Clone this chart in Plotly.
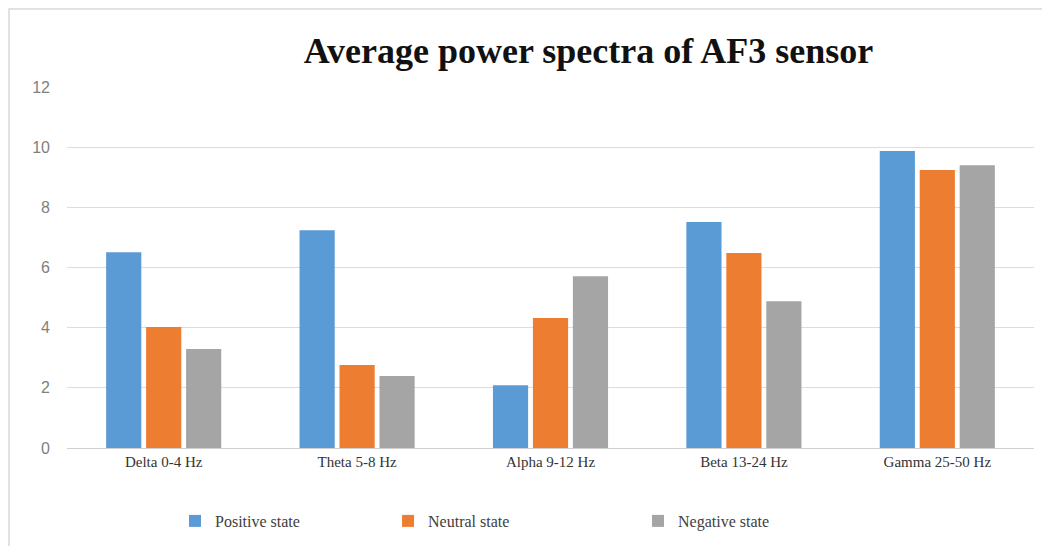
import plotly.graph_objects as go

categories = ["Delta 0-4 Hz", "Theta 5-8 Hz", "Alpha 9-12 Hz", "Beta 13-24 Hz", "Gamma 25-50 Hz"]
positive = [6.51, 7.24, 2.09, 7.51, 9.87]
neutral = [4.02, 2.76, 4.32, 6.48, 9.24]
negative = [3.29, 2.39, 5.71, 4.88, 9.40]
y_ticks = [0, 2, 4, 6, 8, 10, 12]

series = [
    ("Positive state", positive, "#5B9BD5", "legend", 0.1117),
    ("Neutral state", neutral, "#ED7D31", "legend2", 0.332),
    ("Negative state", negative, "#A5A5A5", "legend3", 0.5905),
]

W, H = 1042, 538
L, R, T, B = 59, 16, 79, 98
PW, PH = W - L - R, H - T - B
SERIF = "Liberation Serif"

fig = go.Figure()
for name, vals, color, lg, lx in series:
    fig.add_trace(go.Bar(x=categories, y=vals, legend=lg, showlegend=True, name=name,
                         marker=dict(color=color, line=dict(width=0))))

fig.update_layout(
    width=W, height=H, showlegend=True,
    font=dict(family=SERIF, color="#404040"),
    barmode="group", bargap=0.38, bargroupgap=0.12,
    paper_bgcolor="white", plot_bgcolor="white",
    margin=dict(l=L, r=R, t=T, b=B, autoexpand=False),
    title=dict(text="<b>Average power spectra of AF3 sensor</b>", x=0.557, xanchor="center",
               y=1 - 42 / H, yanchor="middle",
               font=dict(family=SERIF, size=36, color="#111111")),
    xaxis=dict(showgrid=False, showline=True, linecolor="#D0D0D0", linewidth=1,
               tickfont=dict(family=SERIF, size=15, color="#333333"), ticks=""),
    yaxis=dict(range=[0, 12], tickvals=y_ticks, showgrid=True, gridcolor="#DCDCDC",
               zeroline=False, showline=False,
               tickfont=dict(family="Liberation Sans", size=16, color="#7F7F7F"),
               ticklabelstandoff=16),
    shapes=[dict(type="rect", xref="paper", yref="paper",
                 x0=(1 - L) / PW, x1=(1039 - L) / PW, y0=-(B + 10) / PH, y1=1 + (T - 1) / PH,
                 line=dict(color="#D9D9D9", width=1.5))],
)
for name, vals, color, lg, lx in series:
    fig.update_layout({lg: dict(orientation="h", x=lx, xanchor="left", y=-73 / PH, yanchor="middle",
                                font=dict(family="Times New Roman", size=16, color="#404040"),
                                bgcolor="rgba(0,0,0,0)", visible=True)})

fig.write_html("out.html")
